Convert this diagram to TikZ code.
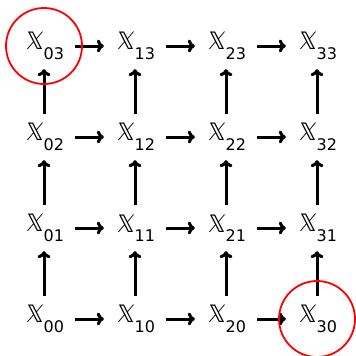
\documentclass[tikz,border=0pt]{standalone}
\usepackage{fontspec}
\setmainfont{DejaVu Sans}
\newfontfamily\bbfont[FakeSlant=0.15]{DejaVu Sans}
\usetikzlibrary{arrows.meta}
\newcommand{\XX}[1]{{\fontsize{24}{24}\bbfont 𝕏}\kern0.3pt\raisebox{-9.5pt}{\fontsize{16}{16}\selectfont #1}}
\begin{document}
\begin{tikzpicture}[x=1pt,y=-1pt,
  gn/.style={rectangle,inner sep=0pt,minimum width=62pt,minimum height=46pt},
  arr/.style={line width=3pt,-{To[length=7pt,width=13pt]}},
  ring/.style={draw=red,line width=1.8pt}]
\useasboundingbox (0,0) rectangle (356,356);
\foreach \i/\x in {0/44,1/135,2/226,3/317}{
  \foreach \j/\y in {0/319,1/228,2/137,3/46}{
    \node[gn] (n\i\j) at (\x,\y) {\XX{\i\j}};
  }
}
\foreach \j in {0,1,2,3}{
  \draw[arr] (n0\j) -- (n1\j);
  \draw[arr] (n1\j) -- (n2\j);
  \draw[arr] (n2\j) -- (n3\j);
}
\foreach \i in {0,1,2,3}{
  \draw[arr] (n\i0) -- (n\i1);
  \draw[arr] (n\i1) -- (n\i2);
  \draw[arr] (n\i2) -- (n\i3);
}
\draw[ring] (n03.center) circle[radius=38];
\draw[ring] (n30.center) circle[radius=38];
\end{tikzpicture}
\end{document}
